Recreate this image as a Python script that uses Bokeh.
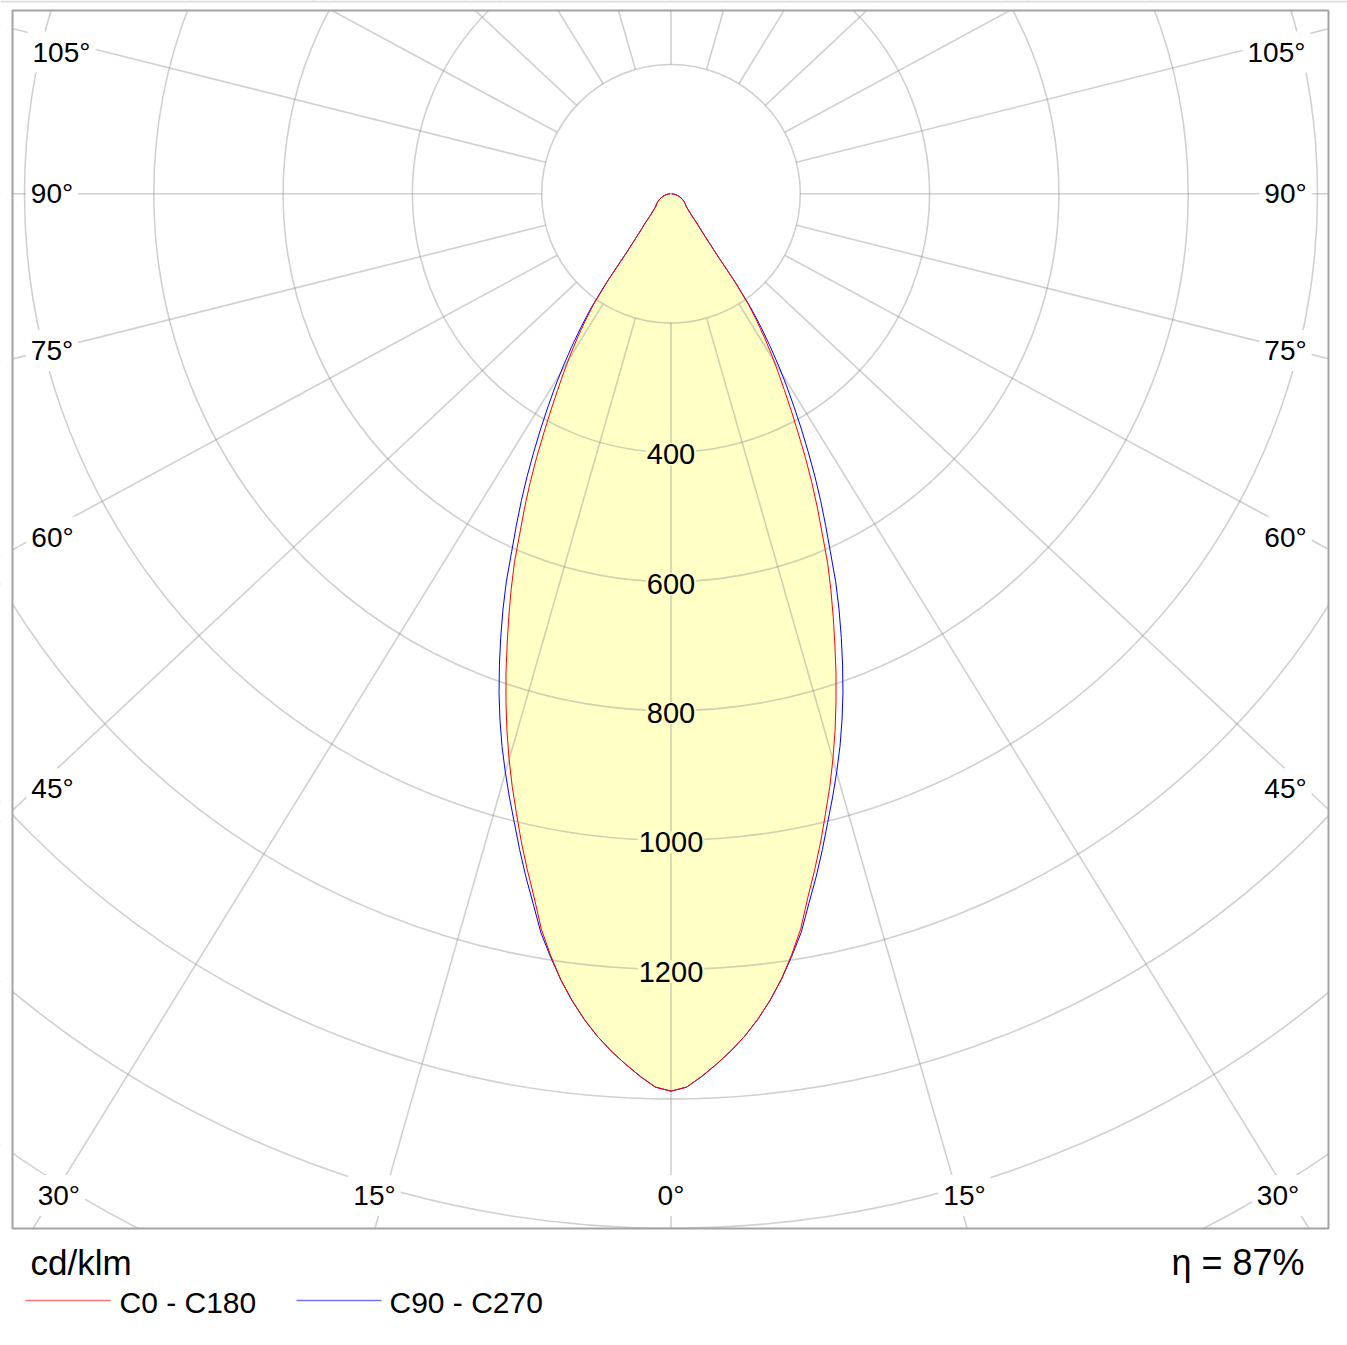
import numpy as np
from bokeh.plotting import figure
from bokeh.models import Range1d
from bokeh.core.properties import value
from bokeh.embed import file_html
from bokeh.resources import INLINE

# ---------------- data ----------------
GAMMA = list(range(0, 46)) + [50, 55, 60, 65, 70, 75, 80, 85, 90]
C0_C180 = [1388, 1382, 1366, 1348, 1329, 1308, 1284, 1257, 1227, 1192,
           1155, 1109, 1069, 1029, 988, 949, 909, 868, 826, 784,
           741, 700, 660, 620, 575, 536, 497, 458, 419, 384,
           351, 322, 294, 266, 238, 209, 167, 117, 95, 80,
           70, 63, 56, 50, 45, 42,
           31, 27, 23, 19, 15, 11, 7.5, 4, 1]
C90_C270 = [1388, 1382, 1366, 1348, 1329, 1308, 1284, 1257, 1227, 1194,
            1160, 1118, 1080, 1041, 1002, 966, 930, 894, 856, 817,
            776, 735, 694, 652, 606, 566, 528, 490, 452, 416,
            381, 348, 315, 282, 249, 215, 170, 118, 95, 80,
            70, 63, 56, 50, 45, 42,
            31, 27, 23, 19, 15, 11, 7.5, 4, 1]
RINGS = [200, 400, 600, 800, 1000, 1200, 1400, 1600, 1800]
RING_LABELS = [400, 600, 800, 1000, 1200]
SPOKES = [0, 15, 30, 45, 60, 75, 90, 105, 120, 135, 150, 165, 180]
ANGLE_TEXT_LEFT = ["105°", "90°", "75°", "60°", "45°", "30°", "15°", "0°"]
ANGLE_TEXT_RIGHT = ["15°", "30°", "45°", "60°", "75°", "90°", "105°"]
UNIT = "cd/klm"
ETA = "η = 87%"
SERIES = ["C0 - C180", "C90 - C270"]

# ---------------- layout ----------------
W, H = 1347, 1345
OFF = 0.0                 # canvas origin on the screenshot
CX, CY = 670.5, 193.3     # pole position on the page (px)
K = 0.6465                # px per cd/klm
STRETCH = 1.068           # spoke direction stretch seen in the reference
FONT = value("Liberation Sans")


def X(px):
    return (px - CX) / K


def Y(py):
    return (CY - py) / K


p = figure(width=W, height=H, output_backend="svg", toolbar_location=None,
           x_range=Range1d(X(OFF), X(OFF + W)), y_range=Range1d(Y(OFF + H), Y(OFF)),
           x_axis_type=None, y_axis_type=None, min_border=0)
p.grid.visible = False
p.outline_line_color = None
p.background_fill_color = "white"
p.border_fill_color = "white"

FILL = "#ffffc6"
GRID = "#8a8a8a"


def outline(vals):
    g = np.radians(np.array(GAMMA, dtype=float))
    r = np.array(vals, dtype=float)
    xl = -r * np.sin(g)
    yl = -r * np.cos(g)
    xs = np.concatenate([xl[::-1], -xl[1:]])
    ys = np.concatenate([yl[::-1], yl[1:]])
    return xs, ys


rx, ry = outline(C0_C180)
bx, by = outline(C90_C270)

# fill
p.patch(rx, ry, fill_color=FILL, line_color=None)

# grid: rings
p.circle(x=[0] * len(RINGS), y=[0] * len(RINGS), radius=RINGS, fill_color=None,
         line_color=GRID, line_alpha=0.4, line_width=1.6)

# grid: spokes
x0, y0, x1, y1 = [], [], [], []
for a in SPOKES:
    t = np.radians(a)
    sides = [1] if a in (0, 180) else [-1, 1]
    for s in sides:
        dx, dy = s * STRETCH * np.sin(t), -np.cos(t)
        n = np.hypot(dx, dy)
        dx, dy = dx / n, dy / n
        x0.append(RINGS[0] * dx)
        y0.append(RINGS[0] * dy)
        x1.append(4000 * dx)
        y1.append(4000 * dy)
p.segment(x0=x0, y0=y0, x1=x1, y1=y1, line_color=GRID, line_alpha=0.4, line_width=1.6)

# curves
p.line(bx, by, line_color="#0000ff", line_width=1, line_join="round")
p.line(rx, ry, line_color="#ff0000", line_width=1, line_join="round")

# masks outside the chart box
L, R, T, B = X(12), X(1328), Y(10), Y(1228)
xs0, xs1 = X(OFF - 5), X(OFF + W + 5)
ys0, ys1 = Y(OFF + H + 5), Y(OFF - 5)
p.quad(left=[xs0, R, xs0, xs0], right=[L, xs1, xs1, xs1],
       top=[ys1, ys1, ys1, B], bottom=[ys0, ys0, T, ys0],
       fill_color="white", line_color=None)
p.quad(left=[L], right=[R], top=[T], bottom=[B], fill_color=None,
       line_color="#a3a3a3", line_width=2)
# faint page rule along the very top
p.segment(x0=[X(0)], y0=[Y(1)], x1=[X(W)], y1=[Y(1)], line_color="#dddddd", line_width=2)

# angle labels (layout positions in page px)
left_pos = [(61, 51.5), (51.5, 193.3), (51.5, 350), (52, 536.7), (52, 788.3),
            (58.3, 1195), (374, 1195), (670.5, 1195)]
right_pos = [(964, 1195), (1277.5, 1195), (1285, 788.3), (1285, 536.7),
             (1285, 350), (1285, 193.3), (1276, 51.5)]
ax = [X(q[0]) for q in left_pos + right_pos]
ay = [Y(q[1]) for q in left_pos + right_pos]
p.text(x=ax, y=ay, text=ANGLE_TEXT_LEFT + ANGLE_TEXT_RIGHT, text_font=FONT,
       text_font_size="28px", text_color="black", text_align="center",
       text_baseline="middle", background_fill_color="white", padding=5)

# ring labels
p.text(x=[0] * len(RING_LABELS), y=[-v for v in RING_LABELS],
       text=[str(v) for v in RING_LABELS], text_font=FONT, text_font_size="29px",
       text_color="black", text_align="center", text_baseline="middle",
       y_offset=2, background_fill_color=FILL, padding=1)

# bottom texts
p.text(x=[X(30)], y=[Y(1262)], text=[UNIT], text_font=FONT, text_font_size="35px",
       text_color="black", text_align="left", text_baseline="middle")
p.text(x=[X(1304)], y=[Y(1262)], text=[ETA], text_font=FONT, text_font_size="36px",
       text_color="black", text_align="right", text_baseline="middle")

# legend
p.segment(x0=[X(25), X(296)], y0=[Y(1300), Y(1300)], x1=[X(110), X(381)], y1=[Y(1300), Y(1300)],
          line_color=["#ff0000", "#0000ff"], line_alpha=0.55, line_width=1.6)
p.text(x=[X(119), X(389)], y=[Y(1302), Y(1302)], text=SERIES, text_font=FONT,
       text_font_size="30px", text_color="black", text_align="left", text_baseline="middle")

open("out.html", "w").write(file_html(p, INLINE))
